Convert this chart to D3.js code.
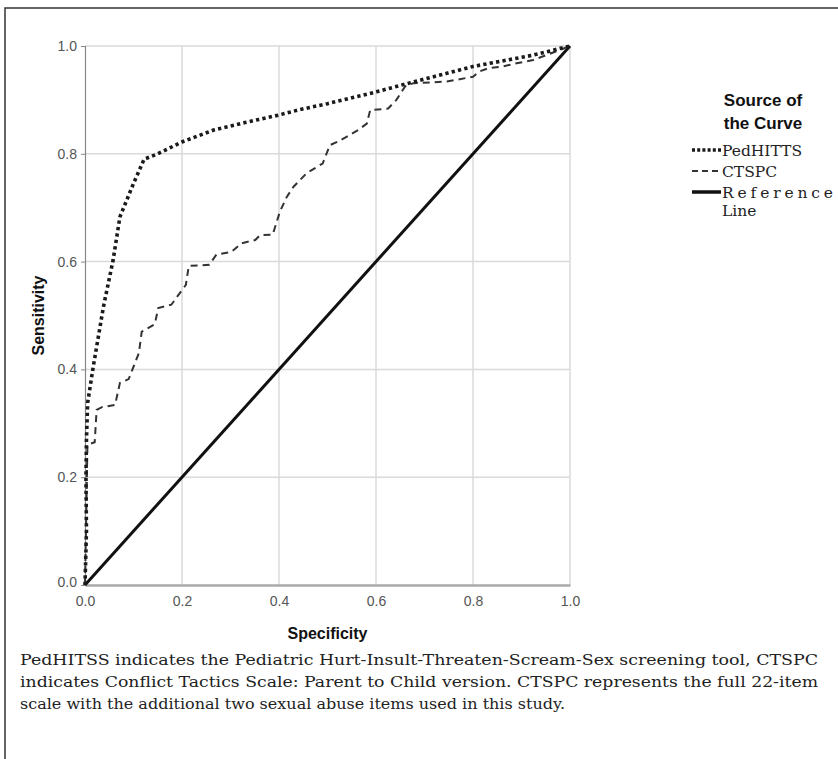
<!DOCTYPE html>
<html lang="en">
<head>
<meta charset="UTF-8">
<title>ROC curves</title>
<script src="https://d3js.org/d3.v7.min.js"></script>
<style>
  body { margin: 0; background: #fff; }
  .tick-label { font-family: "Liberation Sans Narrow", "Liberation Sans", Arial, sans-serif; font-size: 14px; fill: #555; }
  .axis-title { font-family: "Liberation Sans", Arial, sans-serif; font-size: 16px; font-weight: bold; fill: #111; }
  .legend-title { font-family: "Liberation Sans", Arial, sans-serif; font-size: 17px; font-weight: bold; fill: #111; }
  .serif { font-family: "DejaVu Serif", "Liberation Serif", serif; fill: #222; }
</style>
</head>
<body>
<svg id="chart" width="838" height="759"></svg>
<script>
// 1 - specificity (x) and sensitivity (y)
const pedX = [0, 0.003, 0.002, 0.003, 0.0055, 0.017, 0.038, 0.058, 0.072, 0.1, 0.122, 0.15, 0.2, 0.265, 0.33, 0.4, 0.443, 0.5, 0.601, 0.663, 0.8, 0.924, 1];
const pedY = [0, 0.1, 0.2, 0.269, 0.338, 0.405, 0.516, 0.603, 0.683, 0.745, 0.79, 0.8, 0.822, 0.844, 0.858, 0.872, 0.882, 0.893, 0.915, 0.93, 0.962, 0.983, 1];

const ctsX = [0, 0.003, 0.005, 0.02, 0.024, 0.035, 0.062, 0.072, 0.09, 0.111, 0.117, 0.144, 0.151, 0.178, 0.208, 0.214, 0.256, 0.271, 0.302, 0.323, 0.351, 0.361, 0.387, 0.402, 0.416, 0.43, 0.457, 0.49, 0.505, 0.52, 0.54, 0.563, 0.581, 0.588, 0.625, 0.642, 0.66, 0.677, 0.746, 0.8, 0.814, 0.832, 0.862, 0.89, 0.924, 0.951, 1];
const ctsY = [0, 0.15, 0.26, 0.265, 0.325, 0.33, 0.334, 0.375, 0.382, 0.43, 0.47, 0.484, 0.514, 0.52, 0.557, 0.592, 0.594, 0.613, 0.618, 0.634, 0.64, 0.649, 0.65, 0.693, 0.72, 0.739, 0.764, 0.782, 0.816, 0.822, 0.832, 0.844, 0.856, 0.881, 0.884, 0.9, 0.925, 0.931, 0.934, 0.943, 0.953, 0.959, 0.962, 0.968, 0.974, 0.983, 1];

const refX = [0, 1];
const refY = [0, 1];

const ticks = [0, 0.2, 0.4, 0.6, 0.8, 1.0];
const legendLabels = ["PedHITTS", "CTSPC", "Reference"];
const caption = [
  "PedHITSS indicates the Pediatric Hurt-Insult-Threaten-Scream-Sex screening tool, CTSPC",
  "indicates Conflict Tactics Scale: Parent to Child version. CTSPC represents the full 22-item",
  "scale with the additional two sexual abuse items used in this study."
];

const svg = d3.select("#chart");

// frame (top and left edges)
svg.append("path")
  .attr("d", "M5,759 L5,8 L838,8")
  .attr("fill", "none")
  .attr("stroke", "#333")
  .attr("stroke-width", 1.5);

const x = d3.scaleLinear().domain([0, 1]).range([85, 570]);
const y = d3.scaleLinear().domain([0, 1]).range([585, 46]);

// grid
const grid = svg.append("g");
grid.selectAll(".vg").data(ticks.slice(1)).enter().append("line")
  .attr("x1", d => x(d)).attr("x2", d => x(d))
  .attr("y1", y(0)).attr("y2", y(1))
  .attr("stroke", "#dadada").attr("stroke-width", 1.5);
grid.selectAll(".hg").data(ticks.slice(1)).enter().append("line")
  .attr("x1", x(0)).attr("x2", x(1))
  .attr("y1", d => y(d)).attr("y2", d => y(d))
  .attr("stroke", "#dadada").attr("stroke-width", 1.5);

// axes
const yAxis = svg.append("g")
  .attr("transform", `translate(${x(0)},0)`)
  .call(d3.axisLeft(y).tickValues(ticks).tickFormat(d3.format(".1f")).tickSize(4).tickPadding(4));
const xAxis = svg.append("g")
  .attr("transform", `translate(0,${y(0)})`)
  .call(d3.axisBottom(x).tickValues(ticks).tickFormat(d3.format(".1f")).tickSize(0).tickPadding(11));
[yAxis, xAxis].forEach(a => {
  a.selectAll("text").attr("class", "tick-label").attr("fill", null);
  a.selectAll("line").attr("stroke", "#888");
});
yAxis.select(".domain").attr("stroke", "#888").attr("stroke-width", 1.2);
xAxis.select(".domain").attr("stroke", "#aaa").attr("stroke-width", 2.5);
yAxis.selectAll(".tick").filter(d => d === 0).select("text").attr("dy", "0.1em");

// curves
const line = d3.line().x(d => x(d[0])).y(d => y(d[1]));
const zip = (a, b) => a.map((v, i) => [v, b[i]]);

svg.append("path")
  .attr("d", line(zip(refX, refY)))
  .attr("fill", "none").attr("stroke", "#111").attr("stroke-width", 3);

svg.append("path")
  .attr("d", line(zip(ctsX, ctsY)))
  .attr("fill", "none").attr("stroke", "#333").attr("stroke-width", 2)
  .attr("stroke-dasharray", "7,5");

svg.append("path")
  .attr("d", line(zip(pedX, pedY)))
  .attr("fill", "none").attr("stroke", "#1a1a1a").attr("stroke-width", 3.6)
  .attr("stroke-dasharray", "3.3,3.2");

// axis titles
svg.append("text").attr("class", "axis-title")
  .attr("text-anchor", "middle")
  .attr("transform", `translate(${38},${y(0.5)}) rotate(-90)`)
  .attr("dy", "0.35em")
  .text("Sensitivity");
svg.append("text").attr("class", "axis-title")
  .attr("text-anchor", "middle")
  .attr("x", x(0.5)).attr("y", 639)
  .text("Specificity");

// legend
svg.append("text").attr("class", "legend-title").attr("text-anchor", "middle")
  .attr("x", 763).attr("y", 106).text("Source of");
svg.append("text").attr("class", "legend-title").attr("text-anchor", "middle")
  .attr("x", 763).attr("y", 129).text("the Curve");

const legendStyles = [
  { w: 3.6, dash: "3,2.2", c: "#1a1a1a" },
  { w: 2, dash: "6,4", c: "#333" },
  { w: 3.5, dash: null, c: "#111" }
];
const lg = svg.append("g").selectAll("g").data(legendLabels).enter().append("g")
  .attr("transform", (d, i) => `translate(0,${150 + i * 21})`);
lg.append("line")
  .attr("x1", 692).attr("x2", 721).attr("y1", 0).attr("y2", 0)
  .attr("stroke", (d, i) => legendStyles[i].c)
  .attr("stroke-width", (d, i) => legendStyles[i].w)
  .attr("stroke-dasharray", (d, i) => legendStyles[i].dash);
lg.append("text").attr("class", "serif")
  .attr("x", 722).attr("y", 5.5)
  .attr("font-size", 15.5)
  .attr("textLength", d => d === "Reference" ? 111 : null)
  .attr("lengthAdjust", "spacing")
  .text(d => d);
svg.append("text").attr("class", "serif")
  .attr("x", 722).attr("y", 216).attr("font-size", 15.5)
  .text("Line");

// caption
const capWidths = [798, 798, 545];
svg.append("g").selectAll("text").data(caption).enter().append("text")
  .attr("class", "serif")
  .attr("x", 20).attr("y", (d, i) => 665 + i * 22)
  .attr("font-size", 15.5)
  .attr("textLength", (d, i) => capWidths[i])
  .attr("lengthAdjust", "spacingAndGlyphs")
  .text(d => d);
</script>
</body>
</html>
